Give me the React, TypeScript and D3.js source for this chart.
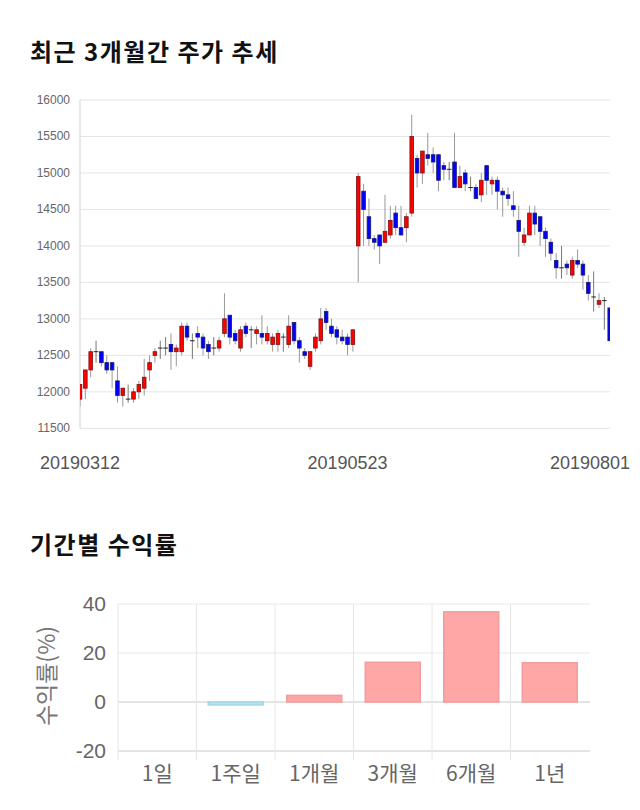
import React from "react";
import * as d3 from "d3";

const dates: string[] = [
  "20190312","20190313","20190314","20190315","20190318","20190319","20190320","20190321","20190322","20190325",
  "20190326","20190327","20190328","20190329","20190401","20190402","20190403","20190404","20190405","20190408",
  "20190409","20190410","20190411","20190412","20190415","20190416","20190417","20190418","20190419","20190422",
  "20190423","20190424","20190425","20190426","20190429","20190430","20190502","20190503","20190507","20190508",
  "20190509","20190510","20190513","20190514","20190515","20190516","20190517","20190520","20190521","20190522",
  "20190523","20190524","20190527","20190528","20190529","20190530","20190531","20190603","20190604","20190605",
  "20190607","20190610","20190611","20190612","20190613","20190614","20190617","20190618","20190619","20190620",
  "20190621","20190624","20190625","20190626","20190627","20190628","20190701","20190702","20190703","20190704",
  "20190705","20190708","20190709","20190710","20190711","20190712","20190715","20190716","20190717","20190718",
  "20190719","20190722","20190723","20190724","20190725","20190726","20190729","20190730","20190731","20190801",
];
const opens: number[] = [
  11900,12050,12300,12550,12550,12400,12400,12150,11950,11900,
  11900,12000,12050,12300,12500,12600,12600,12650,12550,12550,
  12900,12700,12800,12750,12650,12600,12600,12800,13050,12800,
  12600,12900,12850,12800,12800,12700,12650,12650,12750,12650,
  12950,12700,12550,12350,12600,12700,13100,12900,12850,12750,
  12750,12650,14000,14750,14400,14100,14150,14050,14150,14450,
  14250,14250,14450,15200,15000,15250,15250,15250,15100,15050,
  15150,14800,15000,14800,14800,14700,15100,14850,14900,14750,
  14700,14550,14350,14050,14150,14450,14400,14200,14050,13800,
  13700,13750,13600,13800,13750,13500,13300,13200,13250,13150,
];
const highs: number[] = [
  12100,12300,12600,12700,12550,12500,12400,12350,12050,12100,
  12050,12150,12450,12500,12600,12700,12750,12800,12650,12950,
  12950,12800,12900,12800,12700,12750,12750,13350,13050,12850,
  12900,12950,12900,12900,13050,12900,12800,12850,12800,13050,
  12950,12750,12600,12550,12800,13150,13150,13000,12900,12850,
  12800,12850,15000,14850,14650,14150,14150,14700,14550,14550,
  14550,14450,15800,15250,15300,15550,15350,15250,15150,15150,
  15550,15100,15050,14950,14850,15000,15100,14950,14950,14800,
  14800,14750,14550,14250,14550,14550,14400,14250,14100,13900,
  14000,13800,13850,13950,13800,13600,13650,13350,13300,13150,
];
const lows: number[] = [
  11800,11900,12200,12400,12350,12250,12050,11850,11800,11850,
  11850,11900,11950,12150,12400,12450,12500,12300,12350,12500,
  12700,12450,12600,12500,12450,12500,12550,12750,12650,12650,
  12550,12750,12600,12650,12650,12650,12550,12550,12550,12600,
  12650,12400,12450,12300,12550,12650,12850,12750,12650,12650,
  12500,12550,13500,14000,14000,13950,13750,14050,14100,14150,
  14150,14050,14400,14800,14850,15100,15000,14750,14900,14900,
  14800,14800,14750,14750,14650,14600,14700,14700,14500,14400,
  14550,14400,13850,14000,14150,14150,14000,13850,13800,13550,
  13550,13600,13550,13700,13400,13250,13100,13150,12850,12700,
];
const closes: number[] = [
  12100,12300,12550,12550,12400,12300,12300,11950,12050,11900,
  12000,12100,12200,12400,12550,12600,12600,12550,12600,12900,
  12750,12700,12750,12600,12550,12600,12700,13000,12750,12700,
  12850,12800,12850,12850,12750,12800,12750,12800,12750,12900,
  12700,12600,12500,12550,12750,13000,12950,12800,12750,12700,
  12650,12850,14950,14500,14100,14050,14000,14200,14350,14250,
  14150,14400,15500,15000,15300,15200,15150,14900,15050,15050,
  14800,14950,14850,14800,14650,14900,14900,14900,14750,14700,
  14650,14500,14200,14150,14450,14300,14200,14100,13900,13700,
  13700,13700,13800,13750,13600,13350,13300,13250,13250,12700,
];
const yTicks: number[] = [11500, 12000, 12500, 13000, 13500, 14000, 14500, 15000, 15500, 16000];
const xLabelDates: string[] = ["20190312", "20190523", "20190801"];

const periods: string[] = ["1일", "1주일", "1개월", "3개월", "6개월", "1년"];
const returns: number[] = [0, -1.2, 2.7, 16.2, 36.8, 16.0];
const retTicks: number[] = [-20, 0, 20, 40];

const NUM_FONT = "'Liberation Sans', Arial, sans-serif";
const KR_FONT = "'Noto Sans CJK KR', 'Noto Sans', sans-serif";

export default function App() {
  // ---- candlestick chart ----
  const left = 80, right = 610, top = 100, bottom = 428.3;
  const x = d3.scalePoint<string>().domain(dates).range([left, right - 0.3]);
  const y = d3.scaleLinear().domain([11500, 16000]).range([bottom, top]);
  const bw = 3.6;

  const candles = dates.map((d, i) => ({ d, o: opens[i], h: highs[i], l: lows[i], c: closes[i] }));

  // ---- returns chart ----
  const bl = 118, br = 589, bt = 604, bb = 751;
  const bx = d3.scaleBand<string>().domain(periods).range([bl, br]).paddingInner(0.3).paddingOuter(0.15);
  const by = d3.scaleLinear().domain([-20, 40]).range([bb, bt]);
  const step = bx.step();

  return (
    <svg width={640} height={810} style={{ position: "absolute", left: 0, top: 0, background: "#fff" }}>
      <defs>
        <clipPath id="plotClip">
          <rect x={left} y={top - 20} width={right - left} height={bottom - top + 40} />
        </clipPath>
      </defs>

      <text x={30} y={61} fontFamily={KR_FONT} fontSize={24} fontWeight="bold" fill="#111" letterSpacing={1.5}>최근 3개월간 주가 추세</text>

      {yTicks.map((t) => (
        <g key={t}>
          <line x1={left} x2={right} y1={y(t)} y2={y(t)} stroke="#e5e5e5" strokeWidth={1} />
          <text x={70} y={y(t) + 4} textAnchor="end" fontFamily={NUM_FONT} fontSize={12} fill="#666">{t}</text>
        </g>
      ))}
      <line x1={left} x2={left} y1={top} y2={bottom} stroke="#e0e0e0" strokeWidth={1.5} />

      <g clipPath="url(#plotClip)">
        {candles.map((k) => {
          const cx = x(k.d)!;
          const up = k.c > k.o;
          const doji = k.c === k.o;
          const yTop = y(Math.max(k.o, k.c));
          const yBot = y(Math.min(k.o, k.c));
          return (
            <g key={k.d}>
              <line x1={cx} x2={cx} y1={y(k.h)} y2={y(k.l)} stroke={doji ? "#777" : "#999"} strokeWidth={1} />
              {doji ? (
                <line x1={cx - bw / 2 - 0.5} x2={cx + bw / 2 + 0.5} y1={yTop} y2={yTop} stroke="#222" strokeWidth={1} />
              ) : (
                <rect
                  x={cx - bw / 2}
                  y={yTop}
                  width={bw}
                  height={Math.max(1, yBot - yTop)}
                  fill={up ? "#ff0000" : "#0000ff"}
                  stroke={up ? "#7a1010" : "#1a1a6a"}
                  strokeWidth={0.8}
                />
              )}
            </g>
          );
        })}
      </g>

      {xLabelDates.map((d, i) => (
        <text
          key={d}
          x={i === xLabelDates.length - 1 ? 630 : x(d)!}
          y={469}
          textAnchor={i === xLabelDates.length - 1 ? "end" : "middle"}
          fontFamily={NUM_FONT}
          fontSize={18}
          fill="#555"
        >
          {d}
        </text>
      ))}

      <text x={30} y={554} fontFamily={KR_FONT} fontSize={24} fontWeight="bold" fill="#111" letterSpacing={1.5}>기간별 수익률</text>

      {retTicks.map((t) => (
        <g key={t}>
          <line x1={bl} x2={br + 1} y1={by(t)} y2={by(t)} stroke={t === 0 ? "#c8c8c8" : t === -20 ? "#c8c8c8" : "#e8e8e8"} strokeWidth={1} />
          <text x={106} y={by(t) + 7} textAnchor="end" fontFamily={NUM_FONT} fontSize={21} fill="#666">{t}</text>
        </g>
      ))}
      {periods.map((p, i) => (
        <line key={p} x1={bl + i * step} x2={bl + i * step} y1={bt} y2={bb + 9} stroke="#e6e6e6" strokeWidth={1} />
      ))}

      {periods.map((p, i) => {
        const v = returns[i];
        if (v === 0) return null;
        const y0 = by(0), y1 = by(v);
        const pos = v > 0;
        return (
          <rect
            key={p}
            x={bx(p)!}
            y={Math.min(y0, y1)}
            width={bx.bandwidth()}
            height={Math.abs(y1 - y0)}
            fill={pos ? "#ffa6a6" : "#b0e6ee"}
            stroke={pos ? "#f29c9c" : "#a0d8e2"}
            strokeWidth={1.5}
          />
        );
      })}

      {periods.map((p) => (
        <text key={p} x={bx(p)! + bx.bandwidth() / 2} y={781} textAnchor="middle" fontFamily={KR_FONT} fontSize={21} fill="#666">{p}</text>
      ))}

      <text
        transform={`translate(55, 676) rotate(-90)`}
        textAnchor="middle"
        fontFamily={KR_FONT}
        fontSize={23}
        fill="#777"
      >
        수익률(%)
      </text>
    </svg>
  );
}
